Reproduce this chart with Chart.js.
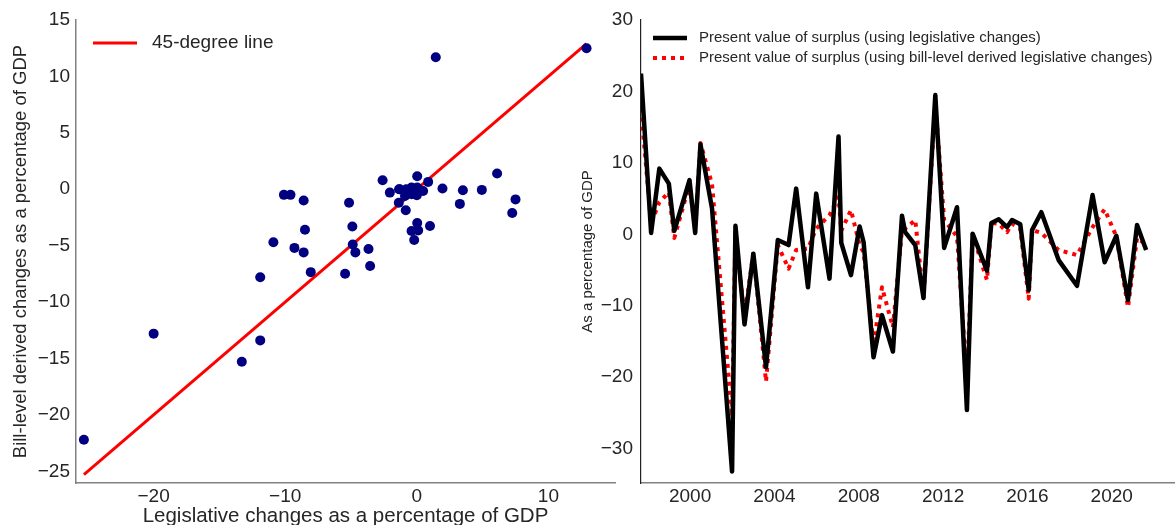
<!DOCTYPE html>
<html>
<head>
<meta charset="utf-8">
<script src="https://cdn.jsdelivr.net/npm/chart.js@4.4.0/dist/chart.umd.min.js"></script>
<style>
    html, body { margin: 0; padding: 0; background: #fff; overflow: hidden; }
    body { width: 1175px; height: 525px; position: relative; }
    #chart_left { position: absolute; left: 0; top: 0; }
    #chart_right { position: absolute; left: 570px; top: 0; }
</style>
</head>
<body>
<canvas id="chart_left" width="620" height="532"></canvas>
<canvas id="chart_right" width="605" height="525"></canvas>
<script>
// left panel: legislative vs bill-level derived changes (% of GDP)
const legis_changes = [-25.3, -20.0, -13.3, -11.9, -11.9, -10.9, -10.1, -9.6, -9.3, -8.6, -8.6, -8.5, -8.06,
    -5.45, -5.15, -4.9, -4.87, -4.67, -3.67, -3.55, -2.6, -2.05, -1.35, -1.3, -0.8, -0.4, 0.03, -0.9, -0.4,
    0.0, 0.48, -1.37, 0.03, 0.86, -0.84, 0.03, -0.4, 0.1, -0.2, 1.0, 1.44, 1.95, 3.5, 3.27, 4.94, 6.1, 7.5,
    7.25, 12.9, -0.6];
const bill_changes = [-22.2, -12.8, -15.3, -13.4, -7.8, -4.7, -0.5, -0.5, -5.2, -5.6, -1.0, -3.6, -7.35,
    -7.5, -1.2, -3.3, -4.9, -5.6, -5.3, -6.8, 0.8, -0.3, 0.0, 0.0, 0.0, 0.15, 0.15, -0.6, -0.44,
    -0.53, -0.15, -1.2, 1.15, 0.65, -1.87, -3.0, -3.7, -3.65, -4.5, -3.26, 11.7, 0.06, -0.09, -1.3, -0.06, 1.4, -0.9,
    -2.1, 12.5, -0.2];

// right panel: present value of surplus over time
const pv_years = [1997.67, 1998.15, 1998.54, 1998.99, 1999.25, 1999.97, 2000.24, 2000.49, 2001.04, 2001.99,
    2002.15, 2002.58, 2003.0, 2003.6, 2004.16, 2004.67, 2005.03, 2005.59, 2005.98, 2006.61, 2007.04, 2007.17,
    2007.63, 2008.04, 2008.23, 2008.7, 2009.1, 2009.62, 2010.05, 2010.2, 2010.68, 2011.07, 2011.63, 2012.05,
    2012.66, 2013.13, 2013.4, 2014.08, 2014.29, 2014.64, 2015.03, 2015.27, 2015.66, 2016.06, 2016.22, 2016.66,
    2017.48, 2018.35, 2019.09, 2019.66, 2020.22, 2020.77, 2021.2, 2021.63];
const pv_legis = [22.5, 0.2, 9.2, 7.1, 0.5, 7.6, 0.2, 12.6, 3.6, -33.2,
    1.2, -12.6, -2.7, -18.6, -0.8, -1.5, 6.4, -7.4, 5.7, -6.2, 13.7, -1.2,
    -5.7, 1.1, -1.1, -17.2, -11.3, -16.4, 2.6, 0.3, -1.5, -8.9, 19.5, -1.9,
    3.8, -24.6, 0.1, -5.1, 1.6, 2.1, 1.0, 2.0, 1.4, -7.8, 0.6, 3.1,
    -3.6, -7.2, 5.5, -3.9, -0.2, -9.2, 1.3, -2.2];
const pv_bill = [17.6, 1.5, 4.5, 5.9, -0.5, 7.0, 0.5, 12.8, 7.0, -25.5,
    0.5, -11.6, -2.5, -20.6, -1.5, -4.8, -2.2, -2.0, 0.8, 2.7, 5.2, 0.5,
    3.4, -1.5, -2.5, -15.5, -7.4, -13.0, 0.6, 0.8, 2.0, -8.9, 18.5, 2.0,
    -0.3, -20.6, 0.0, -6.4, 1.6, 1.5, 0.3, 1.5, 0.8, -9.0, 0.6, 0.2,
    -2.2, -2.9, 1.0, 3.5, -0.3, -10.2, -0.5, -1.4];

const font_family = '"Liberation Sans", Arial, sans-serif';
const text_color = '#262626';

Chart.defaults.font.family = font_family;
Chart.defaults.color = text_color;

function fmt_tick(v) {
    return String(v).replace('-', '\u2212');
}

// legend drawn inside the plot, matplotlib style
const inline_legend = {
    id: 'inline_legend',
    afterDraw(chart, args, opts) {
        const { ctx, chartArea } = chart;
        ctx.save();
        ctx.font = opts.size + 'px ' + font_family;
        ctx.textBaseline = 'middle';
        ctx.fillStyle = text_color;
        let y = chartArea.top + opts.top;
        chart.data.datasets.forEach((ds) => {
            if (!ds.label) {
                return;
            }
            const x0 = chartArea.left + opts.left;
            ctx.beginPath();
            ctx.strokeStyle = ds.borderColor;
            ctx.lineWidth = ds.borderWidth;
            ctx.setLineDash(ds.borderDash || []);
            ctx.moveTo(x0, y);
            ctx.lineTo(x0 + opts.sample, y);
            ctx.stroke();
            ctx.setLineDash([]);
            ctx.fillText(ds.label, x0 + opts.sample + opts.gap, y);
            y += opts.row;
        });
        ctx.restore();
    },
};

const line_lo = Math.min(...legis_changes);
const line_hi = Math.max(...legis_changes);

new Chart(document.getElementById('chart_left').getContext('2d'), {
    type: 'scatter',
    data: {
        datasets: [
            {
                type: 'scatter',
                data: legis_changes.map((x, i) => ({ x: x, y: bill_changes[i] })),
                backgroundColor: '#000080',
                borderWidth: 0,
                pointRadius: 5,
                pointHoverRadius: 5,
            },
            {
                type: 'line',
                label: '45-degree line',
                data: [{ x: line_lo, y: line_lo }, { x: line_hi, y: line_hi }],
                borderColor: '#ff0000',
                borderWidth: 3,
                pointRadius: 0,
                fill: false,
            },
        ],
    },
    options: {
        responsive: false,
        animation: false,
        layout: { padding: { top: 20, right: 5, left: 0, bottom: 0 } },
        plugins: {
            legend: { display: false },
            tooltip: { enabled: false },
            inline_legend: { top: 23, left: 17, sample: 44, gap: 15, row: 0, size: 19 },
        },
        scales: {
            x: {
                type: 'linear',
                min: -25.9,
                max: 15.06,
                grid: { display: false, drawTicks: false },
                border: { display: true, color: '#808080', width: 1.5 },
                ticks: { stepSize: 10, includeBounds: false, padding: 2, font: { size: 19 }, color: text_color, callback: fmt_tick },
                title: {
                    display: true,
                    text: 'Legislative changes as a percentage of GDP',
                    font: { size: 20.5 },
                    color: text_color,
                    padding: { top: 4, bottom: 3 },
                },
                afterFit: (s) => { s.height = 49; },
            },
            y: {
                type: 'linear',
                min: -26.04,
                max: 15,
                grid: { display: false, drawTicks: false },
                border: { display: true, color: '#808080', width: 1.5 },
                ticks: { stepSize: 5, includeBounds: false, padding: 6, font: { size: 19 }, color: text_color, callback: fmt_tick },
                title: {
                    display: true,
                    text: 'Bill-level derived changes as a percentage of GDP',
                    font: { size: 18.5 },
                    color: text_color,
                    padding: { top: 10, bottom: 4 },
                },
                afterFit: (s) => { s.width = 76; },
            },
        },
    },
    plugins: [inline_legend],
});

new Chart(document.getElementById('chart_right').getContext('2d'), {
    type: 'line',
    data: {
        datasets: [
            {
                label: 'Present value of surplus (using legislative changes)',
                data: pv_years.map((x, i) => ({ x: x, y: pv_legis[i] })),
                borderColor: '#000000',
                borderWidth: 4.5,
                borderJoinStyle: 'round',
                pointRadius: 0,
                tension: 0,
                fill: false,
            },
            {
                label: 'Present value of surplus (using bill-level derived legislative changes)',
                data: pv_years.map((x, i) => ({ x: x, y: pv_bill[i] })),
                borderColor: '#ff0000',
                borderWidth: 4,
                borderDash: [4, 5],
                borderJoinStyle: 'round',
                pointRadius: 0,
                tension: 0,
                fill: false,
            },
        ],
    },
    options: {
        responsive: false,
        animation: false,
        layout: { padding: { top: 20, right: 0, left: 0, bottom: 0 } },
        plugins: {
            legend: { display: false },
            tooltip: { enabled: false },
            inline_legend: { top: 18, left: 12, sample: 34, gap: 12, row: 20, size: 15 },
        },
        scales: {
            x: {
                type: 'linear',
                min: 1997.67,
                max: 2023.0,
                grid: { display: false, drawTicks: false },
                border: { display: true, color: '#808080', width: 1.5 },
                ticks: { stepSize: 4, includeBounds: false, padding: 2, font: { size: 19 }, color: text_color, callback: (v) => String(v) },
                afterFit: (s) => { s.height = 42; },
            },
            y: {
                type: 'linear',
                min: -34.8,
                max: 30,
                grid: { display: false, drawTicks: false },
                border: { display: true, color: '#222222', width: 1.2 },
                ticks: { stepSize: 10, includeBounds: false, padding: 8, font: { size: 19 }, color: text_color, callback: fmt_tick },
                title: {
                    display: true,
                    text: 'As a percentage of GDP',
                    font: { size: 15 },
                    color: text_color,
                    padding: { top: 9, bottom: 4 },
                },
                afterFit: (s) => { s.width = 71; },
            },
        },
    },
    plugins: [inline_legend],
});
</script>
</body>
</html>
